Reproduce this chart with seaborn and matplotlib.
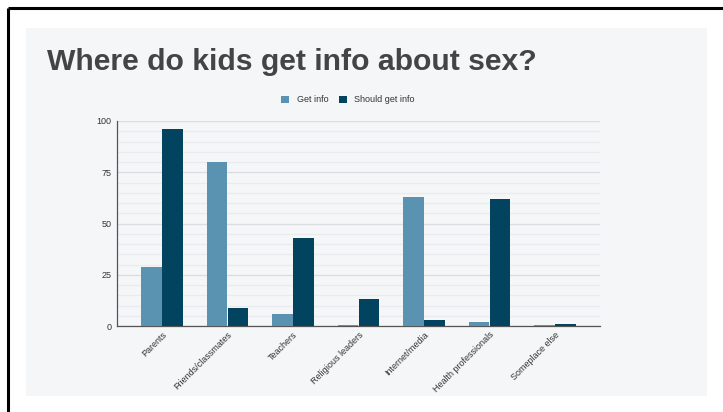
import matplotlib
matplotlib.use("Agg")
import matplotlib.pyplot as plt
from matplotlib.patches import Rectangle
from matplotlib.lines import Line2D
from matplotlib.ticker import MultipleLocator
import seaborn as sns
import pandas as pd

categories = ["Parents", "Friends/classmates", "Teachers", "Religious leaders",
              "Internet/media", "Health professionals", "Someplace else"]
get_info = [29, 80, 6, 0.5, 63, 2, 0.5]
should_get_info = [96, 9, 43, 13, 3, 62, 1]
series_names = ["Get info", "Should get info"]
y_ticks = [0, 25, 50, 75, 100]

colors = {"Get info": "#5a92b1", "Should get info": "#02445f"}
panel_bg = "#f5f6f8"

df = pd.DataFrame({
    "category": categories * 2,
    "series": [series_names[0]] * len(categories) + [series_names[1]] * len(categories),
    "value": get_info + should_get_info,
})

sns.set_theme(style="white")
plt.rcParams["font.family"] = ["Liberation Sans", "DejaVu Sans"]

W, H = 723, 412
fig = plt.figure(figsize=(W / 100, H / 100), dpi=100)
fig.patch.set_facecolor("white")

# light card behind the chart
fig.patches.append(Rectangle((26 / W, 1 - 396 / H), (707 - 26) / W, (396 - 28) / H,
                             transform=fig.transFigure, facecolor=panel_bg,
                             edgecolor="none", zorder=-5))
# black frame lines along the top and left edges
fig.add_artist(Line2D([7.5 / W, 1], [1 - 7.5 / H, 1 - 7.5 / H], transform=fig.transFigure,
                      color="black", lw=2.2, solid_capstyle="butt"))
fig.add_artist(Line2D([7.5 / W, 7.5 / W], [0, 1 - 7.5 / H], transform=fig.transFigure,
                      color="black", lw=2.2, solid_capstyle="butt"))

fig.text(47 / W, 1 - 70 / H, "Where do kids get info about sex?", fontsize=21.7,
         fontweight="bold", color="#444444", ha="left", va="baseline")

ax = fig.add_axes([117 / W, 1 - 326 / H, (600 - 117) / W, (326 - 121) / H])
ax.set_zorder(2)
ax.set_facecolor(panel_bg)

sns.barplot(data=df, x="category", y="value", hue="series", palette=colors,
            order=categories, hue_order=series_names, width=0.64, gap=0.04,
            saturation=1, edgecolor="none", ax=ax, legend=False, zorder=3)

ax.set_xlim(-0.687, len(categories) - 1 + 0.687)
ax.set_ylim(0, 100)
ax.set_yticks(y_ticks)
ax.yaxis.set_minor_locator(MultipleLocator(5))
ax.grid(axis="y", which="major", color="#dcdde0", lw=1.0, zorder=0)
ax.grid(axis="y", which="minor", color="#eaebee", lw=0.9, zorder=0)
ax.set_axisbelow(True)

for side in ("top", "right"):
    ax.spines[side].set_visible(False)
for side in ("left", "bottom"):
    ax.spines[side].set_color("#555555")
    ax.spines[side].set_linewidth(0.9)

ax.set_xlabel("")
ax.set_ylabel("")
ax.tick_params(axis="y", which="both", length=0, labelsize=6.5, labelcolor="#333333", pad=4)
ax.tick_params(axis="x", length=0, labelsize=6.5, labelcolor="#333333", pad=3)
plt.setp(ax.get_xticklabels(), rotation=45, ha="right", rotation_mode="anchor")

handles = [Rectangle((0, 0), 1, 1, facecolor=colors[s], edgecolor="none") for s in series_names]
fig.legend(handles, series_names, loc="center", bbox_to_anchor=(348 / W, 1 - 100 / H),
           ncol=2, frameon=False, fontsize=6.5, handlelength=0.9, handleheight=0.9,
           handletextpad=0.8, columnspacing=1.2, labelcolor="#333333")

fig.savefig("out.png", dpi=100, facecolor="white")
